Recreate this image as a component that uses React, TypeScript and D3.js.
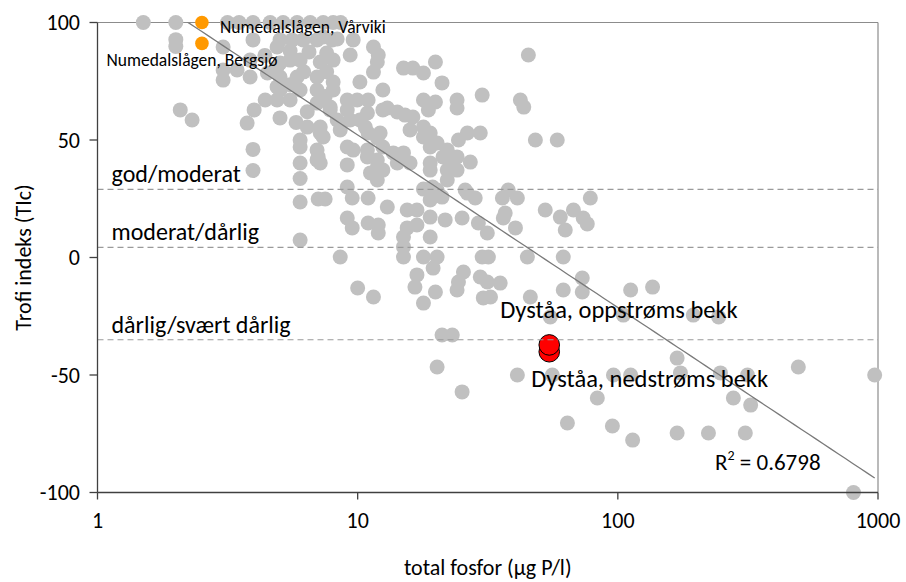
import React, { useEffect } from 'react';
import * as d3 from 'd3';

const W = 906;
const H = 582;
const plotLeft = 97.5;
const plotRight = 878;
const plotTop = 22.5;
const plotBottom = 492.5;

const xTicks = [1, 10, 100, 1000];
const yTicks = [-100, -50, 0, 50, 100];
const xTitle = 'total fosfor (µg P/l)';
const yTitle = 'Trofi indeks (TIc)';

// [total fosfor µg P/l, TIc]
const greyPoints: [number, number][] = [
  [1.5, 100], [2.0, 100], [3.16, 100], [3.5, 100], [3.96, 100], [4.61, 100], [5.17, 100], [5.85, 100],
  [6.57, 100], [7.37, 100], [8.05, 100], [8.6, 100],
  [2.0, 92.7], [2.0, 89.8], [3.04, 89.6], [3.96, 92.6], [4.9, 89.6], [5.03, 92.6], [5.6, 92.6], [6.17, 92.6],
  [6.98, 92.6], [7.37, 93.8], [7.98, 92.6], [8.34, 93], [9.61, 92.6], [11.5, 89.6], [12, 86.2],
  [5.5, 88], [6.5, 87.5], [7.6, 87], [4.4, 86], [6.2, 79], [7.6, 79], [4.5, 78.5], [5.5, 73.5], [7.5, 68.5],
  [6.4, 62], [5.8, 57.5],
  [3.86, 84], [5.03, 82.8], [5.5, 84], [6.01, 84], [7.18, 83.2], [8.05, 84], [9.36, 86.2], [11.9, 83.2],
  [11.5, 78.9], [3.44, 79.8], [3.04, 79.8], [3.04, 75.5], [4.9, 81.1],
  [15, 80.6], [16.3, 80.6], [17.9, 78.5], [19.9, 83.2], [21.1, 74.3], [10.2, 74.7], [12.5, 71.3],
  [3.86, 76.8], [5.03, 76.8], [5.85, 76.8], [6.98, 76.8], [8.05, 74.7],
  [4.9, 72.6], [5.03, 71.3], [6.01, 71.3], [6.98, 71.3], [8.05, 71.3],
  [4.41, 67], [4.0, 62.8], [3.76, 57.2], [5.5, 67], [4.9, 67], [5.03, 59.4],
  [6.98, 65.7], [7.84, 62.8], [9.12, 67], [9.96, 67], [10.97, 67], [10.9, 61.5], [12.5, 62.8], [8.34, 58.5],
  [13, 63.6], [14.2, 61.9], [15.2, 60.6], [16.3, 59.8],
  [17.9, 67], [19.9, 66.2], [18.7, 62.8], [24.1, 67], [24.1, 63.6], [30.1, 69.1], [42.2, 67], [43.5, 64], [45.3, 86.2],
  [48.2, 50], [58.5, 50], [29.6, 53], [26.4, 53], [24.4, 50],
  [6.4, 55.5], [7.18, 55.5], [7.37, 51.3], [6.98, 45.7], [6.98, 41.5],
  [8.57, 54.3], [9.36, 58.5], [10.2, 58.5], [10.7, 55.5], [10.97, 53],
  [11.9, 50.9], [12.5, 47], [13.7, 44.5], [15, 44.5], [14.2, 40.2],
  [6.01, 50], [6.01, 47], [6.01, 40.2], [6.01, 33.6], [7.05, 42.8],
  [9.12, 47], [9.61, 45.7], [10.9, 45.7], [11.9, 41.5], [12.5, 37.2],
  [15.9, 54.3], [17.9, 55.5], [19, 53], [17.9, 51.3], [20.2, 48.7], [19, 47],
  [22.1, 45.7], [24.1, 42.8], [22.7, 40.2], [24.1, 37.2], [19, 37.2], [15.9, 40.2], [27.1, 40.6],
  [2.08, 62.8], [2.31, 58.5], [3.96, 46], [3.96, 37],
  [7.18, 53], [7.18, 40.2], [7.84, 64], [9.12, 62.8], [10.9, 42.8], [11.9, 38.5], [12.2, 53],
  [21.3, 42.8], [23.3, 42.3], [22.1, 33],
  [7.05, 24.9], [7.5, 24.9], [6.01, 23.6], [9.12, 39.4], [9.12, 30], [9.53, 25.3], [10.97, 25.3], [11.2, 36], [11.9, 33],
  [9.12, 16.8], [9.53, 12.6], [10.97, 14.7], [12, 13.8], [12, 10.4],
  [13, 21.5], [15.5, 20.2], [16.9, 20.2], [19, 24.5], [19, 17.2],
  [15.5, 12.6], [15, 8.7], [15, 4.5], [15, 0.2], [16.9, 13.8], [19, 8.7],
  [21.7, 16], [25.2, 16.8], [20.2, 28.7], [17.9, 29.1], [21.1, 25.7], [25.9, 28.7], [28.3, 25.3],
  [29.1, 14.7], [31.5, 10.4], [36, 25.3], [37.9, 28.7], [41.1, 25.3], [36.9, 18.9], [36.3, 16.8], [40.4, 12.6],
  [44.9, 0.2], [52.6, 20.2],
  [8.57, 0.2], [10, -13], [11.5, -16.8],
  [17.9, 0.2], [20.2, 0.2], [19.5, -4.5], [16.9, -7.4], [16.6, -12.6], [19.9, -14.7], [17.9, -19.4],
  [25.5, -6.2], [24.4, -10.4], [24.1, -13.8], [29.6, -8.3], [31.5, -10.4], [35.3, -10.9], [30.1, 0.2], [31.8, 0.2],
  [30.4, -17.2], [32.4, -16.8], [46.1, -16.8],
  [6.01, 7.4],
  [19, 40.2], [22.1, 37.2], [19.4, 30], [26.4, 27.4],
  [60.1, 17.2], [67.5, 20.2], [62.8, 11.7], [73.6, 16.8], [76.3, 14.3], [78.4, 25.3],
  [61.7, 0.2], [61.7, -13.8], [73, -8.7], [73, -14.7], [112, -13.8], [136, -12.6],
  [21.1, -33], [23.1, -33], [20.2, -46.6], [25.2, -57.2], [41.1, -50], [56, -50], [83.4, -59.8],
  [96.2, -50], [112, -50], [64, -70.4], [95.3, -71.7], [114, -77.7], [169, -74.7], [169, -42.8], [174, -49.1],
  [195, -24.5], [244, -25.3], [248, -49.1], [315, -50], [494, -46.6], [971, -50], [278, -59.8], [324, -62.8],
  [223, -74.7], [309, -74.7], [805, -100], [55, -25.3], [105, -24.5],
];

const numedalP = [2.52, 2.52];
const numedalT = [100, 91.1];
const numedalLabels = ['Numedalslågen, Vårviki', 'Numedalslågen, Bergsjø'];

const dystaaP = [54.5, 54.5];
const dystaaT = [-37.2, -40.1];
const dystaaLabels = ['Dyståa, oppstrøms bekk', 'Dyståa, nedstrøms bekk'];

const classBounds = [29, 4.3, -35];
const classLabels = ['god/moderat', 'moderat/dårlig', 'dårlig/svært dårlig'];

// logarithmic trendline: TIc = a + b * ln(P)
const trendA = 125.6;
const trendB = -31.9;
const trendRange = [1.5, 971];
const r2Text = '0.6798';

const FONT = 'Calibri, Carlito, Lato, "Open Sans", sans-serif';

export default function App() {
  useEffect(() => {
    document.body.style.margin = '0';
  }, []);

  const x = d3.scaleLog().domain([1, 1000]).range([plotLeft, plotRight]);
  const y = d3.scaleLinear().domain([-100, 100]).range([plotBottom, plotTop]);

  const trendData = d3.range(0, 101).map((i) => {
    const lp = Math.log10(trendRange[0]) + (i / 100) * (Math.log10(trendRange[1]) - Math.log10(trendRange[0]));
    const p = Math.pow(10, lp);
    return [p, trendA + trendB * Math.log(p)] as [number, number];
  });
  const trendLine = d3.line<[number, number]>().x((d) => x(d[0])).y((d) => y(d[1]))(trendData) || '';

  return (
    <div style={{ position: 'fixed', left: 0, top: 0 }}>
      <svg width={W} height={H} style={{ display: 'block', background: '#fff' }} fontFamily={FONT}>
        <defs>
          <clipPath id="plotClip">
            <rect x={plotLeft} y={plotTop} width={plotRight - plotLeft} height={plotBottom - plotTop} />
          </clipPath>
        </defs>
        <line x1={plotLeft} x2={plotRight} y1={plotTop} y2={plotTop} stroke="#8c8c8c" strokeWidth={1.2} />
        <line x1={plotRight} x2={plotRight} y1={plotTop} y2={plotBottom} stroke="#8c8c8c" strokeWidth={1.2} />

        <g>
          {greyPoints.map((d, i) => (
            <circle key={i} cx={x(d[0])} cy={y(d[1])} r={7.5} fill="#c0c0c0" />
          ))}
        </g>
        {numedalP.map((p, i) => (
          <circle key={'n' + i} cx={x(p)} cy={y(numedalT[i])} r={6.8} fill="#ff9900" />
        ))}
        {dystaaP.map((p, i) => (
          <circle key={'d' + i} cx={x(p)} cy={y(dystaaT[dystaaT.length - 1 - i])} r={10.3} fill="#ff0000" stroke="#000" strokeWidth={1} />
        ))}

        {classBounds.map((b, i) => (
          <line key={'c' + i} x1={plotLeft} x2={plotRight} y1={y(b)} y2={y(b)} stroke="#9a9a9a" strokeWidth={1.2} strokeDasharray="6 4" />
        ))}

        <path d={trendLine} fill="none" stroke="#7a7a7a" strokeWidth={1.3} clipPath="url(#plotClip)" />

        <line x1={plotLeft} x2={plotLeft} y1={plotTop} y2={plotBottom} stroke="#404040" strokeWidth={1.3} />
        <line x1={plotLeft} x2={plotRight} y1={plotBottom} y2={plotBottom} stroke="#404040" strokeWidth={1.3} />
        {yTicks.map((t) => (
          <g key={'yt' + t}>
            <line x1={plotLeft - 8} x2={plotLeft} y1={y(t)} y2={y(t)} stroke="#404040" strokeWidth={1.3} />
            <text x={80} y={y(t)} dy="0.35em" textAnchor="end" fontSize={22} fill="#000">{t}</text>
          </g>
        ))}
        {xTicks.map((t) => (
          <g key={'xt' + t}>
            <line x1={x(t)} x2={x(t)} y1={plotBottom} y2={plotBottom + 7} stroke="#404040" strokeWidth={1.3} />
            <text x={x(t)} y={528} textAnchor="middle" fontSize={22} fill="#000">{t}</text>
          </g>
        ))}

        <text x={(plotLeft + plotRight) / 2} y={575} textAnchor="middle" fontSize={22} fill="#000">{xTitle}</text>
        <text transform={`translate(31, ${(plotTop + plotBottom) / 2}) rotate(-90)`} textAnchor="middle" fontSize={22} fill="#000">{yTitle}</text>

        {classBounds.map((b, i) => (
          <text key={'cl' + i} x={plotLeft + 14} y={y(b) - 7} fontSize={24} fill="#000">{classLabels[i]}</text>
        ))}

        <text x={x(numedalP[0]) + 18} y={y(numedalT[0]) + 10} fontSize={17.5} fill="#000">{numedalLabels[0]}</text>
        <text x={plotLeft + 9} y={y(numedalT[1]) + 23} fontSize={17.5} fill="#000">{numedalLabels[1]}</text>
        <text x={x(dystaaP[0]) - 49} y={y(dystaaT[0]) - 27} fontSize={24.5} fill="#000">{dystaaLabels[0]}</text>
        <text x={x(dystaaP[1]) - 18} y={y(dystaaT[1]) + 35} fontSize={24.5} fill="#000">{dystaaLabels[1]}</text>

        <text x={715} y={470} fontSize={23} fill="#000">
          R<tspan fontSize={14} dy={-10}>2</tspan><tspan dy={10}> = {r2Text}</tspan>
        </text>
      </svg>
    </div>
  );
}
